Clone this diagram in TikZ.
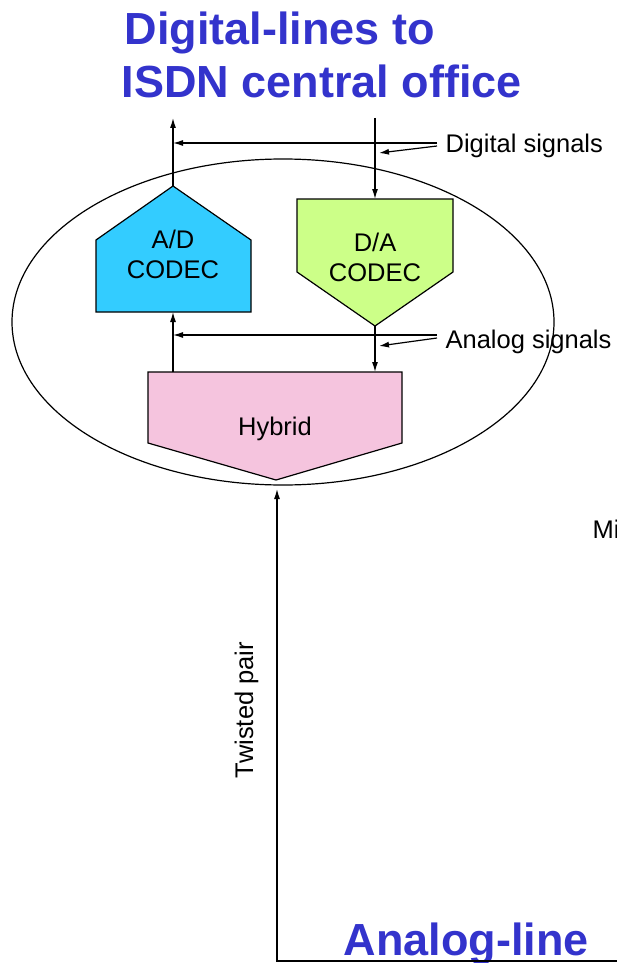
\documentclass[tikz,border=0pt]{standalone}
\usepackage{fontspec}
\setmainfont{Liberation Sans}
\usetikzlibrary{arrows.meta}
\definecolor{titleblue}{HTML}{3333CC}
\definecolor{adcyan}{HTML}{33CCFF}
\definecolor{dagreen}{HTML}{CCFF88}
\definecolor{hybpink}{HTML}{F5C4DE}
\begin{document}
\begin{tikzpicture}[x=1pt,y=-1pt, line width=1.2pt,
  lbl/.style={font=\fontsize{25.5}{30}\selectfont, inner sep=0pt},
  ttl/.style={font=\fontsize{45}{53}\selectfont\bfseries, text=titleblue, inner sep=0pt},
  sig/.style={-{Latex[length=10pt,width=6pt]}},
  blk/.style={draw=black, line width=1.2pt}]
\useasboundingbox (0,0) rectangle (617,963);

% titles
\node[ttl, anchor=base west] (t1) at (124,45) {Digital-lines to};
\node[ttl, anchor=base west] (t2) at (121,98) {ISDN central office};
\node[ttl, anchor=base west] (t3) at (343,955) {Analog-line};

% enclosing ellipse
\draw[line width=1.2pt] (283,322) ellipse [x radius=271, y radius=163];

% A/D codec
\draw[blk, fill=adcyan] (96,312) -- (96,240) -- (173,186) -- (251,240) -- (251,312) -- cycle;
\coordinate (adtop) at (173,186);
\coordinate (adbot) at (173,312);
\node[lbl, align=center, anchor=base] (ad) at (173,278) {A/D\\CODEC};

% D/A codec
\draw[blk, fill=dagreen] (297,199) -- (453,199) -- (453,272) -- (375,326) -- (297,272) -- cycle;
\coordinate (datop) at (375,199);
\coordinate (dabot) at (375,326);
\node[lbl, align=center, anchor=base] (da) at (375,281) {D/A\\CODEC};

% Hybrid
\draw[blk, fill=hybpink] (148,372) -- (402,372) -- (402,443) -- (276,480) -- (148,443) -- cycle;
\coordinate (hybL) at (173,372);
\coordinate (hybR) at (375,372);
\node[lbl, anchor=base] (hyb) at (275,435) {Hybrid};

% digital side
\coordinate (outtop) at (173,118);
\coordinate (intop) at (375,118);
\coordinate (dl) at (437,143);
\coordinate (adline) at (173,143);
\coordinate (dtip) at (379,153);
\draw[sig] (adtop) -- (outtop);
\draw[sig] (dl) -- (adline);
\draw[sig] (intop) -- (datop);
\draw[sig] (437,146) -- (dtip);
\node[lbl, anchor=base west] (dsig) at (445,153) {Digital signals};

% analog side
\coordinate (al) at (437,335);
\coordinate (alline) at (173,335);
\coordinate (atip) at (379,346);
\draw[sig] (al) -- (alline);
\draw[sig] (dabot) -- (hybR);
\draw[sig] (hybL) -- (adbot);
\draw[sig] (437,338) -- (atip);
\node[lbl, anchor=base west] (asig) at (445,348) {Analog signals};

% twisted pair
\coordinate (tpright) at (620,961);
\coordinate (tpbot) at (277,961);
\coordinate (tptop) at (277,489);
\draw[sig] (tpright) -- (tpbot) -- (tptop);
\node[lbl, rotate=90, anchor=base] (tp) at (253,710) {Twisted pair};

% label cut by the right edge, as in the reference
\node[lbl, anchor=base west] (mi) at (592,538) {Mi};
\end{tikzpicture}
\end{document}
